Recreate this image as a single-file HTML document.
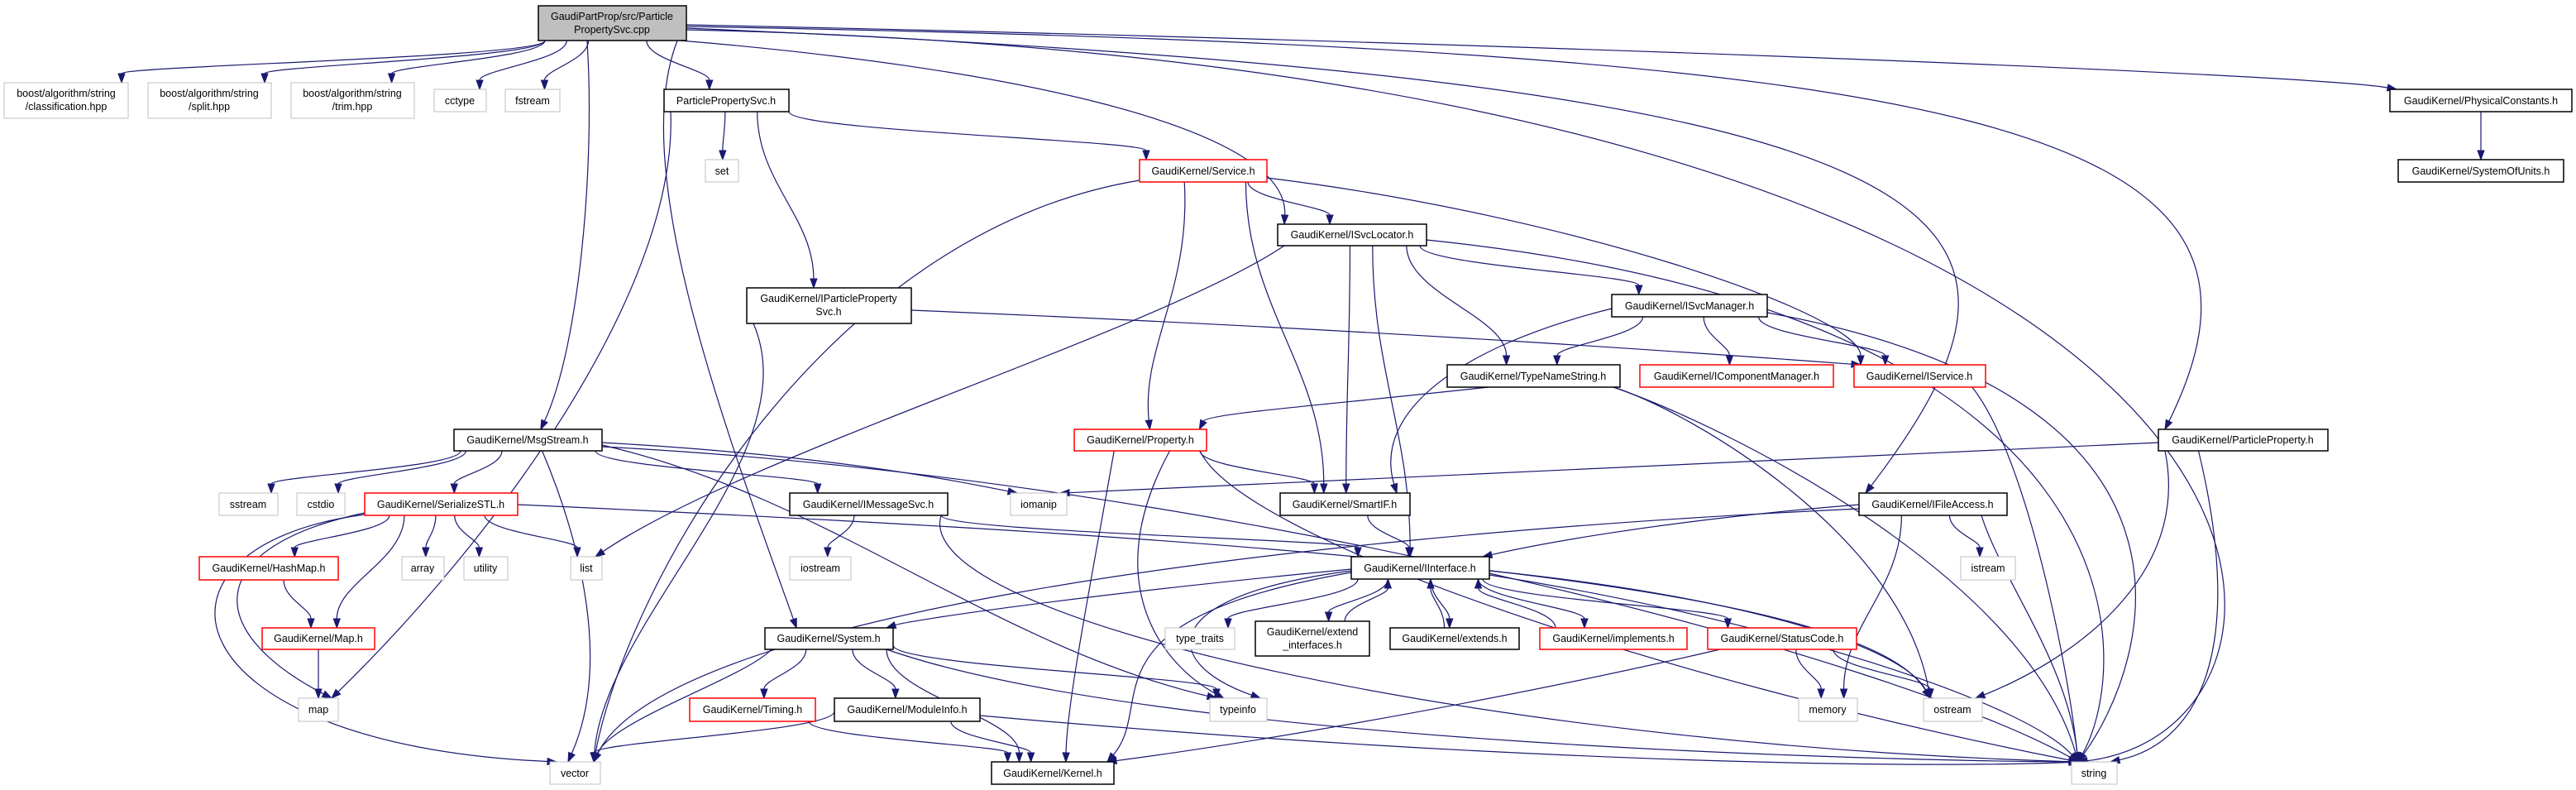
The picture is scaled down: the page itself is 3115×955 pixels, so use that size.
<!DOCTYPE html>
<html><head><meta charset="utf-8"><style>
html,body{margin:0;padding:0;background:#fff;width:3115px;height:955px;overflow:hidden}
svg{display:block}
text{font-family:"Liberation Sans",sans-serif;font-size:12.5px;fill:#000;text-anchor:middle}
</style></head><body>
<svg id="g" width="3115" height="955" viewBox="0 0 3115 955" xmlns="http://www.w3.org/2000/svg">
<g id="edges" fill="none" stroke="#191970" stroke-width="1.2"></g>
<g id="heads" fill="#191970" stroke="#191970"></g>
<g id="nodes">
<rect x="651" y="7" width="179" height="42" fill="#bfbfbf" stroke="#000" stroke-width="1.5"/><text x="740" y="24">GaudiPartProp/src/Particle</text><text x="740" y="40">PropertySvc.cpp</text>
<rect x="5" y="100" width="150" height="43" fill="#fff" stroke="#bfbfbf"/><text x="80" y="117">boost/algorithm/string</text><text x="80" y="133">/classification.hpp</text>
<rect x="179" y="100" width="149" height="43" fill="#fff" stroke="#bfbfbf"/><text x="253" y="117">boost/algorithm/string</text><text x="253" y="133">/split.hpp</text>
<rect x="352" y="100" width="149" height="43" fill="#fff" stroke="#bfbfbf"/><text x="426" y="117">boost/algorithm/string</text><text x="426" y="133">/trim.hpp</text>
<rect x="525" y="108" width="63" height="27" fill="#fff" stroke="#bfbfbf"/><text x="556" y="126">cctype</text>
<rect x="611" y="108" width="66" height="27" fill="#fff" stroke="#bfbfbf"/><text x="644" y="126">fstream</text>
<rect x="803" y="108" width="151" height="27" fill="#fff" stroke="#000" stroke-width="1.5"/><text x="878" y="126">ParticlePropertySvc.h</text>
<rect x="853" y="193" width="40" height="27" fill="#fff" stroke="#bfbfbf"/><text x="873" y="211">set</text>
<rect x="903" y="348" width="199" height="43" fill="#fff" stroke="#000" stroke-width="1.5"/><text x="1002" y="365">GaudiKernel/IParticleProperty</text><text x="1002" y="381">Svc.h</text>
<rect x="1378" y="193" width="154" height="27" fill="#fff" stroke="#f00" stroke-width="1.5"/><text x="1455" y="211">GaudiKernel/Service.h</text>
<rect x="1545" y="271" width="180" height="26" fill="#fff" stroke="#000" stroke-width="1.5"/><text x="1635" y="288">GaudiKernel/ISvcLocator.h</text>
<rect x="1949" y="356" width="188" height="27" fill="#fff" stroke="#000" stroke-width="1.5"/><text x="2043" y="374">GaudiKernel/ISvcManager.h</text>
<rect x="1750" y="441" width="209" height="27" fill="#fff" stroke="#000" stroke-width="1.5"/><text x="1854" y="459">GaudiKernel/TypeNameString.h</text>
<rect x="1983" y="441" width="234" height="27" fill="#fff" stroke="#f00" stroke-width="1.5"/><text x="2100" y="459">GaudiKernel/IComponentManager.h</text>
<rect x="2242" y="441" width="159" height="27" fill="#fff" stroke="#f00" stroke-width="1.5"/><text x="2321" y="459">GaudiKernel/IService.h</text>
<rect x="2890" y="108" width="220" height="27" fill="#fff" stroke="#000" stroke-width="1.5"/><text x="3000" y="126">GaudiKernel/PhysicalConstants.h</text>
<rect x="2900" y="193" width="200" height="27" fill="#fff" stroke="#000" stroke-width="1.5"/><text x="3000" y="211">GaudiKernel/SystemOfUnits.h</text>
<rect x="549" y="519" width="179" height="26" fill="#fff" stroke="#000" stroke-width="1.5"/><text x="638" y="536">GaudiKernel/MsgStream.h</text>
<rect x="265" y="596" width="71" height="27" fill="#fff" stroke="#bfbfbf"/><text x="300" y="614">sstream</text>
<rect x="359" y="596" width="58" height="27" fill="#fff" stroke="#bfbfbf"/><text x="388" y="614">cstdio</text>
<rect x="441" y="596" width="185" height="27" fill="#fff" stroke="#f00" stroke-width="1.5"/><text x="533" y="614">GaudiKernel/SerializeSTL.h</text>
<rect x="241" y="673" width="168" height="28" fill="#fff" stroke="#f00" stroke-width="1.5"/><text x="325" y="691">GaudiKernel/HashMap.h</text>
<rect x="486" y="673" width="51" height="28" fill="#fff" stroke="#bfbfbf"/><text x="511" y="691">array</text>
<rect x="561" y="673" width="53" height="28" fill="#fff" stroke="#bfbfbf"/><text x="587" y="691">utility</text>
<rect x="690" y="673" width="38" height="28" fill="#fff" stroke="#bfbfbf"/><text x="709" y="691">list</text>
<rect x="317" y="759" width="136" height="26" fill="#fff" stroke="#f00" stroke-width="1.5"/><text x="385" y="776">GaudiKernel/Map.h</text>
<rect x="361" y="844" width="48" height="28" fill="#fff" stroke="#bfbfbf"/><text x="385" y="862">map</text>
<rect x="665" y="921" width="61" height="27" fill="#fff" stroke="#bfbfbf"/><text x="695" y="939">vector</text>
<rect x="955" y="596" width="191" height="27" fill="#fff" stroke="#000" stroke-width="1.5"/><text x="1050" y="614">GaudiKernel/IMessageSvc.h</text>
<rect x="955" y="673" width="74" height="28" fill="#fff" stroke="#bfbfbf"/><text x="992" y="691">iostream</text>
<rect x="925" y="759" width="155" height="26" fill="#fff" stroke="#000" stroke-width="1.5"/><text x="1002" y="776">GaudiKernel/System.h</text>
<rect x="834" y="844" width="152" height="28" fill="#fff" stroke="#f00" stroke-width="1.5"/><text x="910" y="862">GaudiKernel/Timing.h</text>
<rect x="1009" y="844" width="176" height="28" fill="#fff" stroke="#000" stroke-width="1.5"/><text x="1097" y="862">GaudiKernel/ModuleInfo.h</text>
<rect x="1299" y="519" width="160" height="26" fill="#fff" stroke="#f00" stroke-width="1.5"/><text x="1379" y="536">GaudiKernel/Property.h</text>
<rect x="1222" y="596" width="68" height="27" fill="#fff" stroke="#bfbfbf"/><text x="1256" y="614">iomanip</text>
<rect x="1548" y="596" width="157" height="27" fill="#fff" stroke="#000" stroke-width="1.5"/><text x="1626" y="614">GaudiKernel/SmartIF.h</text>
<rect x="1634" y="673" width="167" height="27" fill="#fff" stroke="#000" stroke-width="1.5"/><text x="1717" y="691">GaudiKernel/IInterface.h</text>
<rect x="1409" y="759" width="84" height="26" fill="#fff" stroke="#bfbfbf"/><text x="1451" y="776">type_traits</text>
<rect x="1518" y="751" width="138" height="42" fill="#fff" stroke="#000" stroke-width="1.5"/><text x="1587" y="768">GaudiKernel/extend</text><text x="1587" y="784">_interfaces.h</text>
<rect x="1681" y="759" width="156" height="26" fill="#fff" stroke="#000" stroke-width="1.5"/><text x="1759" y="776">GaudiKernel/extends.h</text>
<rect x="1862" y="759" width="178" height="26" fill="#fff" stroke="#f00" stroke-width="1.5"/><text x="1951" y="776">GaudiKernel/implements.h</text>
<rect x="2065" y="759" width="180" height="26" fill="#fff" stroke="#f00" stroke-width="1.5"/><text x="2155" y="776">GaudiKernel/StatusCode.h</text>
<rect x="1463" y="844" width="69" height="28" fill="#fff" stroke="#bfbfbf"/><text x="1497" y="862">typeinfo</text>
<rect x="1199" y="921" width="148" height="27" fill="#fff" stroke="#000" stroke-width="1.5"/><text x="1273" y="939">GaudiKernel/Kernel.h</text>
<rect x="2610" y="519" width="205" height="26" fill="#fff" stroke="#000" stroke-width="1.5"/><text x="2712" y="536">GaudiKernel/ParticleProperty.h</text>
<rect x="2248" y="596" width="179" height="27" fill="#fff" stroke="#000" stroke-width="1.5"/><text x="2337" y="614">GaudiKernel/IFileAccess.h</text>
<rect x="2371" y="673" width="66" height="28" fill="#fff" stroke="#bfbfbf"/><text x="2404" y="691">istream</text>
<rect x="2175" y="844" width="71" height="28" fill="#fff" stroke="#bfbfbf"/><text x="2210" y="862">memory</text>
<rect x="2326" y="844" width="71" height="28" fill="#fff" stroke="#bfbfbf"/><text x="2361" y="862">ostream</text>
<rect x="2505" y="921" width="55" height="27" fill="#fff" stroke="#bfbfbf"/><text x="2532" y="939">string</text>
</g>
</svg>
<script>
var N={
root:[651,830,7,49],cls:[5,155,100,143],split:[179,328,100,143],trim:[352,501,100,143],
cctype:[525,588,108,135],fstream:[611,677,108,135],ppsvc:[803,954,108,135],set:[853,893,193,220],
ippsvc:[903,1102,348,391],service:[1378,1532,193,220],isvcloc:[1545,1725,271,297],
isvcman:[1949,2137,356,383],typename:[1750,1959,441,468],icomp:[1983,2217,441,468],
iservice:[2242,2401,441,468],physc:[2890,3110,108,135],sou:[2900,3100,193,220],
msg:[549,728,519,545],sstream:[265,336,596,623],cstdio:[359,417,596,623],serial:[441,626,596,623],
hashmap:[241,409,673,701],array:[486,537,673,701],utility:[561,614,673,701],list:[690,728,673,701],
mapH:[317,453,759,785],map:[361,409,844,872],vector:[665,726,921,948],imsg:[955,1146,596,623],
iostream:[955,1029,673,701],system:[925,1080,759,785],timing:[834,986,844,872],modinfo:[1009,1185,844,872],
property:[1299,1459,519,545],iomanip:[1222,1290,596,623],smartif:[1548,1705,596,623],
iinterface:[1634,1801,673,700],typetraits:[1409,1493,759,785],extif:[1518,1656,751,793],
extends:[1681,1837,759,785],implements:[1862,2040,759,785],status:[2065,2245,759,785],
typeinfo:[1463,1532,844,872],kernel:[1199,1347,921,948],ppH:[2610,2815,519,545],
ifile:[2248,2427,596,623],istream:[2371,2437,673,701],memory:[2175,2246,844,872],
ostream:[2326,2397,844,872],string:[2505,2560,921,948]};
var E=[
['root','cls'],['root','split'],['root','trim'],['root','cctype'],['root','fstream'],['root','ppsvc'],
['root','msg',{c1:[720,200],c2:[700,420]}],['root','system',{c1:[760,200],c2:[870,500]}],
['root','isvcloc',{c1:[1200,80],c2:[1560,150]}],['root','physc',{s:[830,30],c1:[1800,50],c2:[2800,90]}],
['root','ppH',{s:[830,32],c1:[2400,60],c2:[2800,150]}],['root','ifile',{s:[830,34],c1:[2400,100],c2:[2520,250]}],
['root','string',{s:[830,36],c1:[2860,80],c2:[2860,880]}],
['physc','sou'],['ppsvc','set'],['ppsvc','service',{s:[954,135]}],['ppsvc','ippsvc'],
['ppsvc','map',{c1:[820,350],c2:[600,650]}],
['service','isvcloc'],['service','property',{c1:[1440,350],c2:[1380,420]}],['service','smartif'],
['service','iservice',{s:[1532,215],c1:[1900,260],c2:[2250,380]}],['service','vector',{s:[1378,218],c1:[1000,280],c2:[760,700]}],
['isvcloc','isvcman'],['isvcloc','typename'],['isvcloc','smartif'],['isvcloc','iinterface'],
['isvcloc','list',{c1:[1400,400],c2:[900,550]}],['isvcloc','string',{s:[1725,290],c1:[2600,380],c2:[2580,800]}],
['ippsvc','iservice',{s:[1102,375],c1:[1700,400],c2:[2100,430]}],['ippsvc','vector',{c1:[980,550],c2:[730,750]}],
['isvcman','typename'],['isvcman','icomp'],['isvcman','iservice'],['isvcman','smartif',{s:[1949,373],c1:[1760,420],c2:[1660,500]}],
['isvcman','string',{s:[2137,378],c1:[2700,480],c2:[2600,800]}],
['typename','property',{s:[1800,468],c1:[1600,490],c2:[1460,500]}],['typename','string',{c1:[2100,520],c2:[2450,700]}],['typename','ostream',{c1:[2050,500],c2:[2300,650]}],
['iservice','string',{c1:[2450,550],c2:[2500,800]}],
['msg','sstream'],['msg','cstdio'],['msg','serial'],['msg','imsg'],['msg','vector',{c1:[700,650],c2:[740,800]}],
['msg','iomanip',{s:[728,535],c1:[1000,550],c2:[1150,580]}],['msg','string',{s:[728,540],c1:[1500,580],c2:[2300,800]}],
['msg','typeinfo',{s:[728,538],c1:[1000,600],c2:[1200,780]}],
['serial','hashmap'],['serial','mapH'],['serial','array'],['serial','utility'],['serial','list'],
['serial','map',{s:[441,620],c1:[250,660],c2:[240,760]}],['serial','vector',{s:[441,622],c1:[150,660],c2:[200,900]}],
['serial','ostream',{s:[626,610],c1:[1500,650],c2:[2250,700]}],
['hashmap','mapH'],['mapH','map'],
['imsg','iostream'],['imsg','iinterface'],['imsg','string',{c1:[1100,750],c2:[1800,900]}],
['property','smartif'],['property','kernel',{c1:[1320,700],c2:[1290,850]}],['property','typeinfo',{c1:[1330,700],c2:[1400,800]}],
['property','string',{c1:[1500,650],c2:[2000,820]}],
['smartif','iinterface'],
['iinterface','system',{s:[1634,688],c1:[1300,720],c2:[1100,750]}],['iinterface','typetraits'],['iinterface','extif'],
['iinterface','extends'],['iinterface','implements'],['iinterface','status'],
['iinterface','typeinfo',{s:[1634,690],c1:[1400,720],c2:[1400,800]}],['iinterface','kernel',{s:[1634,692],c1:[1300,750],c2:[1400,850]}],
['iinterface','ostream',{s:[1801,690],c1:[2100,720],c2:[2300,780]}],['iinterface','string',{s:[1801,695],c1:[2150,750],c2:[2450,850]}],
['extif','iinterface',{up:1}],['extends','iinterface',{up:1}],['implements','iinterface',{up:1}],
['status','memory'],['status','ostream'],['status','kernel',{s:[2080,785],c1:[1800,850],c2:[1500,900]}],
['system','timing'],['system','modinfo'],['system','kernel'],['system','typeinfo',{s:[1080,780]}],
['system','vector',{c1:[900,820],c2:[740,870]}],['system','string',{c1:[1400,900],c2:[2300,920]}],
['timing','kernel'],['modinfo','vector',{s:[1009,860]}],['modinfo','kernel'],['modinfo','string',{s:[1185,865],c1:[1800,920],c2:[2300,930]}],
['ppH','iomanip',{s:[2610,535],c1:[2000,560],c2:[1500,590]}],['ppH','ostream',{c1:[2650,700],c2:[2500,800]}],['ppH','string',{c1:[2720,800],c2:[2650,900]}],
['ifile','iinterface',{s:[2248,610],c1:[2000,630],c2:[1850,660]}],['ifile','istream'],['ifile','memory'],
['ifile','string',{c1:[2420,700],c2:[2500,800]}],['ifile','vector',{s:[2248,615],c1:[1500,650],c2:[800,750]}]
];
var eg=document.getElementById('edges'),hg=document.getElementById('heads'),ns='http://www.w3.org/2000/svg';
function clamp(v,a,b){return Math.max(a,Math.min(b,v));}
E.forEach(function(e){
 var a=N[e[0]],b=N[e[1]],o=e[2]||{};
 var acx=(a[0]+a[1])/2,bcx=(b[0]+b[1])/2,sx,sy,ex,ey;
 if(o.up){sx=clamp(acx+(bcx-acx)*0.3,a[0]+8,a[1]-8);sy=a[2];ex=clamp(bcx+(acx-bcx)*0.3,b[0]+8,b[1]-8);ey=b[3];}
 else{sx=clamp(acx+(bcx-acx)*0.3,a[0]+8,a[1]-8);sy=a[3];ex=clamp(bcx+(acx-bcx)*0.15,b[0]+8,b[1]-8);ey=b[2];}
 if(o.s){sx=o.s[0];sy=o.s[1];}
 var dy=ey-sy;
 var c1=o.c1||[sx,sy+dy*0.4],c2=o.c2||[ex,ey-dy*0.4];
 // shorten end for arrowhead
 var tx=ex-c2[0],ty=ey-c2[1],L=Math.sqrt(tx*tx+ty*ty)||1;tx/=L;ty/=L;
 var bx=ex-tx*11,by=ey-ty*11;
 var p=document.createElementNS(ns,'path');
 p.setAttribute('d','M'+sx+','+sy+' C'+c1[0]+','+c1[1]+' '+c2[0]+','+c2[1]+' '+bx+','+by);
 eg.appendChild(p);
 var px=-ty,py=tx;
 var h=document.createElementNS(ns,'polygon');
 h.setAttribute('points',ex+','+ey+' '+(bx+px*4)+','+(by+py*4)+' '+(bx-px*4)+','+(by-py*4));
 hg.appendChild(h);
});
</script>
</body></html>
